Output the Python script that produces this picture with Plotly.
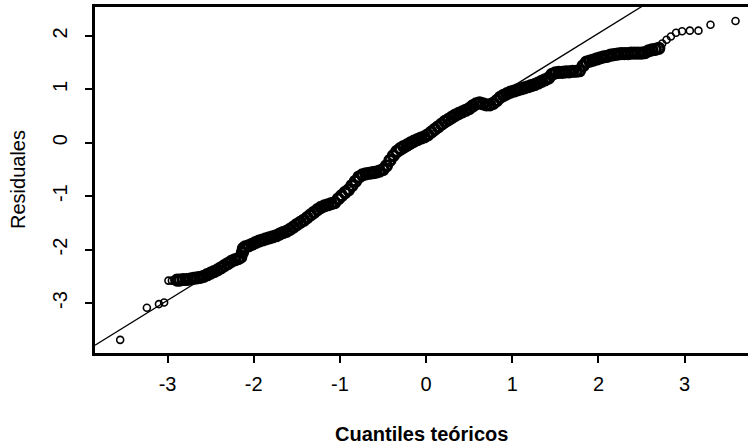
import plotly.graph_objects as go

# Normal Q-Q plot of model residuals
# Sparse tail observations (theoretical quantile, sample residual)
tail_q = [-3.55, -3.24, -3.10, -3.04, -2.99, -2.95, -2.92,
          2.74, 2.79, 2.84, 2.90, 2.97, 3.06, 3.16, 3.30, 3.59]
tail_r = [-3.69, -3.09, -3.02, -2.99, -2.58, -2.58, -2.57,
          1.86, 1.93, 1.99, 2.06, 2.09, 2.10, 2.10, 2.21, 2.28]

# Dense central body of the sorted residuals
body_q = [
    -2.89, -2.86, -2.82, -2.78, -2.74, -2.70, -2.66, -2.62, -2.58,
    -2.54, -2.50, -2.46, -2.42, -2.38, -2.34, -2.30, -2.26, -2.22, -2.18, -2.15,
    -2.13, -2.12,
    -2.10, -2.06, -2.02, -1.98, -1.94, -1.90, -1.86, -1.82, -1.78, -1.74, -1.70, -1.66, -1.62,
    -1.58, -1.54, -1.50, -1.46, -1.42, -1.38, -1.34, -1.30, -1.26, -1.22, -1.18, -1.14, -1.10, -1.06,
    -1.02, -0.98, -0.94, -0.90, -0.86, -0.82, -0.78, -0.74,
    -0.70, -0.66, -0.62, -0.58, -0.54, -0.50,
    -0.46, -0.42, -0.38, -0.34, -0.30, -0.26, -0.22, -0.18, -0.14, -0.10, -0.06, -0.02,
    0.02, 0.06, 0.10, 0.14, 0.18, 0.22, 0.26, 0.30, 0.34, 0.38, 0.42, 0.46, 0.50, 0.54, 0.58, 0.62,
    0.66, 0.70, 0.74, 0.78,
    0.82, 0.86, 0.90, 0.94, 0.98, 1.02, 1.06, 1.10, 1.14, 1.18, 1.22, 1.26, 1.30, 1.34, 1.38, 1.42,
    1.46, 1.50, 1.54, 1.58, 1.62, 1.66, 1.70, 1.74, 1.78,
    1.82, 1.86, 1.90, 1.94, 1.98, 2.02, 2.06, 2.10, 2.14, 2.18, 2.22,
    2.26, 2.30, 2.34, 2.38, 2.42, 2.46, 2.50, 2.54,
    2.58, 2.62, 2.66, 2.70,
]
body_r = [
    -2.57, -2.57, -2.56, -2.56, -2.55, -2.54, -2.53, -2.52, -2.50,
    -2.47, -2.44, -2.41, -2.38, -2.34, -2.30, -2.26, -2.22, -2.19, -2.17, -2.14,
    -2.05, -1.98,
    -1.95, -1.93, -1.90, -1.87, -1.84, -1.82, -1.80, -1.78, -1.76, -1.74, -1.71, -1.68, -1.66,
    -1.62, -1.58, -1.53, -1.49, -1.45, -1.40, -1.35, -1.30, -1.25, -1.21, -1.18, -1.16, -1.14, -1.12,
    -1.05, -0.99, -0.93, -0.88, -0.80, -0.72, -0.64, -0.60,
    -0.58, -0.57, -0.56, -0.55, -0.53, -0.50,
    -0.43, -0.33, -0.24, -0.16, -0.11, -0.07, -0.04, 0.00, 0.03, 0.06, 0.09, 0.11,
    0.15, 0.20, 0.25, 0.30, 0.35, 0.40, 0.44, 0.48, 0.52, 0.55, 0.58, 0.61, 0.64, 0.69, 0.73, 0.75,
    0.73, 0.71, 0.71, 0.74,
    0.79, 0.85, 0.89, 0.92, 0.95, 0.97, 0.99, 1.01, 1.03, 1.05, 1.07, 1.09, 1.12, 1.15, 1.18, 1.21,
    1.28, 1.31, 1.32, 1.32, 1.33, 1.33, 1.34, 1.34, 1.35,
    1.44, 1.51, 1.53, 1.55, 1.57, 1.59, 1.61, 1.62, 1.64, 1.65, 1.66,
    1.67, 1.67, 1.67, 1.68, 1.68, 1.68, 1.68, 1.69,
    1.72, 1.74, 1.75, 1.77,
]

# Reference line (qqline): intercept and slope
line_intercept = 0.05
line_slope = 1.0
line_q = [-3.842, 3.735]

x_ticks = [-3, -2, -1, 0, 1, 2, 3]
x_tick_text = ["-3", "-2", "-1", "0", "1", "2", "3"]
y_ticks = [-3, -2, -1, 0, 1, 2]
y_tick_text = ["-3", "-2", "-1", "0", "1", "2"]

FONT = "Liberation Sans, Arial, sans-serif"
TICK_SIZE = 20
TITLE_SIZE = 20

fig = go.Figure()

fig.add_trace(go.Scatter(
    x=line_q,
    y=[line_intercept + line_slope * q for q in line_q],
    mode="lines",
    line=dict(color="black", width=1.3),
    hoverinfo="skip",
))

fig.add_trace(go.Scatter(
    x=body_q, y=body_r, mode="markers",
    marker=dict(symbol="circle-open", size=10, color="black",
                line=dict(width=3.2, color="black")),
))

fig.add_trace(go.Scatter(
    x=tail_q, y=tail_r, mode="markers",
    marker=dict(symbol="circle-open", size=7, color="black",
                line=dict(width=1.6, color="black")),
))

fig.update_layout(
    width=748, height=447,
    margin=dict(l=95, r=0, t=7, b=94),
    paper_bgcolor="white", plot_bgcolor="white",
    showlegend=False,
    font=dict(family=FONT, color="black", size=TICK_SIZE),
    xaxis=dict(
        range=[-3.842, 3.735], showgrid=False, zeroline=False,
        showline=True, linecolor="black", linewidth=2.5, mirror=True,
        ticks="outside", ticklen=7, tickwidth=2, tickcolor="black",
        tickvals=x_ticks, ticktext=x_tick_text,
        tickfont=dict(family=FONT, size=TICK_SIZE, color="black"),
        ticklabelstandoff=4,
    ),
    yaxis=dict(
        range=[-3.936, 2.543], showgrid=False, zeroline=False,
        showline=True, linecolor="black", linewidth=2.5,
        ticks="outside", ticklen=7, tickwidth=2, tickcolor="black",
        tickvals=y_ticks, ticktext=y_tick_text, tickangle=-90,
        tickfont=dict(family=FONT, size=TICK_SIZE, color="black"),
        ticklabelstandoff=10,
    ),
    annotations=[
        dict(text="<b>Cuantiles teóricos</b>", xref="paper", yref="paper",
             x=0.5, y=0, yshift=-81, xanchor="center", yanchor="middle",
             showarrow=False, font=dict(family=FONT, size=TITLE_SIZE, color="black")),
        dict(text="Residuales", xref="paper", yref="paper",
             x=0, y=0.5, xshift=-77, xanchor="center", yanchor="middle",
             textangle=-90, showarrow=False,
             font=dict(family=FONT, size=TITLE_SIZE, color="black")),
    ],
)

fig.write_html("out.html")
